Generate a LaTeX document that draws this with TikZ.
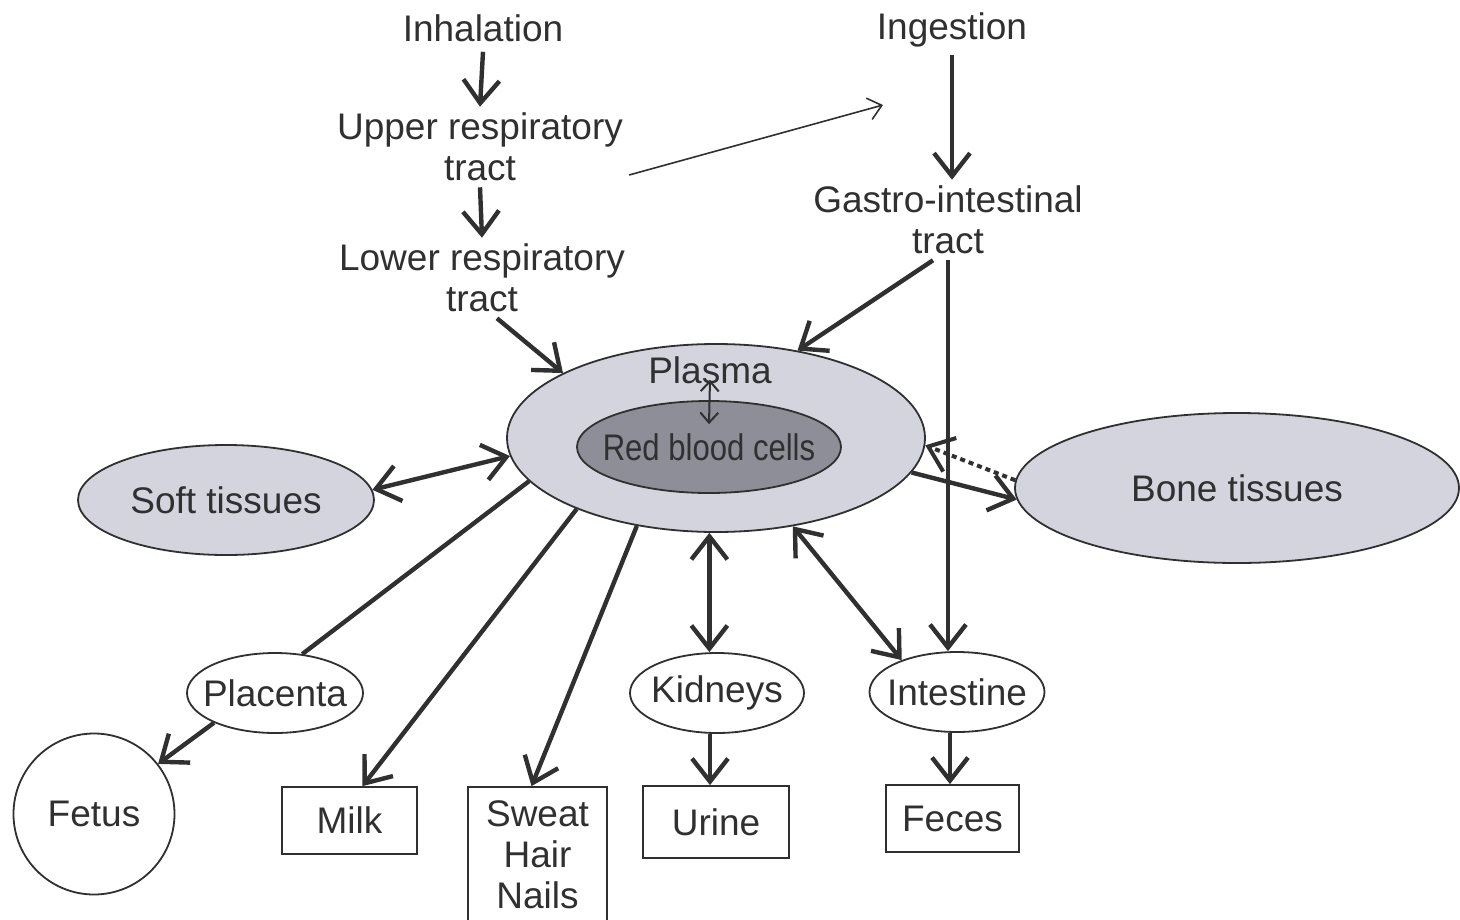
\documentclass[tikz,border=0pt]{standalone}
\usepackage{fontspec}
\setmainfont{Liberation Sans}
\usetikzlibrary{shapes.geometric,arrows.meta,calc}
\definecolor{ink}{HTML}{303030}
\definecolor{plasmafill}{HTML}{D4D4DE}
\definecolor{rbcfill}{HTML}{8E8E98}
\newcommand{\ctext}[1]{\makebox[0pt]{#1}}
\begin{document}
\begin{tikzpicture}[x=1pt,y=-1pt,
  every node/.style={font=\fontsize{37}{41}\selectfont, text=ink, align=center},
  lbl/.style={inner sep=6pt},
  oval/.style={ellipse, draw=ink, line width=1.8pt, inner sep=0pt},
  box/.style={rectangle, draw=ink, line width=1.8pt, inner sep=0pt},
  conn/.style={draw=ink, line width=4.4pt},
  arr/.style={conn, -{Straight Barb[length=23pt,width=36pt]}},
  darr/.style={conn, {Straight Barb[length=23pt,width=36pt]}-{Straight Barb[length=23pt,width=36pt]}},
  thinarr/.style={draw=ink, line width=1.6pt, -{Straight Barb[length=13pt,width=22pt]}},
  smalldarr/.style={draw=ink, line width=2pt, {Straight Barb[length=10pt,width=18pt]}-{Straight Barb[length=10pt,width=18pt]}},
  dotarr/.style={draw=ink, line width=4pt, dash pattern=on 5pt off 4pt, -{Straight Barb[length=23pt,width=36pt]}}
]
\useasboundingbox[fill=white] (0,0) rectangle (1460,919);

% sources
\node[lbl] (inh) at (483,28) {Inhalation};
\node[lbl] (upper) at (480,147) {Upper respiratory\\tract};
\node[lbl] (lower) at (482,278) {Lower respiratory\\tract};
\node[lbl] (ing) at (952,30) {Ingestion};
\node[lbl] (gi) at (948,220) {Gastro-intestinal\\tract};
\coordinate (ingtip) at (883,105);

% compartments
\node[oval, fill=plasmafill, minimum width=418pt, minimum height=188pt] (plasma) at (716,438) {};
\node[inner sep=0pt] (plasmalbl) at (710,370) {Plasma};
\node[oval, fill=rbcfill, minimum width=264pt, minimum height=92pt] (rbc) at (709,447) {\ctext{\scalebox{0.84}[1]{Red blood cells}}};
\node[oval, fill=plasmafill, minimum width=296pt, minimum height=110pt] (soft) at (226,500) {\ctext{Soft tissues}};
\node[oval, fill=plasmafill, minimum width=444pt, minimum height=150pt] (bone) at (1237,488) {\ctext{Bone tissues}};

% organs
\node[oval, minimum width=176pt, minimum height=80pt] (placenta) at (275,693) {\ctext{Placenta}};
\node[oval, minimum width=174pt, minimum height=80pt] (kidneys) at (717,693) {\ctext{Kidneys}};
\node[oval, minimum width=175pt, minimum height=80pt] (intestine) at (957,692) {\ctext{Intestine}};
\node[circle, draw=ink, line width=1.8pt, minimum size=161pt, inner sep=0pt] (fetus) at (94,814) {Fetus};

% outputs
\node[box, minimum width=135pt, minimum height=67pt] (milk) at (349.5,820.5) {Milk};
\node[box, minimum width=139pt, minimum height=136pt] (sweat) at (537.5,855) {Sweat\\Hair\\Nails};
\node[box, minimum width=146pt, minimum height=72pt] (urine) at (716,822) {Urine};
\node[box, minimum width=133pt, minimum height=67pt] (feces) at (952.5,818.5) {Feces};

% connectors
\draw[arr] ([yshift=-4pt]inh.south) -- (upper.north);
\draw[arr] (upper.south) -- (lower.north);
\draw[thinarr] ([yshift=-28pt]upper.east) -- (ingtip);
\draw[arr] ([xshift=15pt]lower.south) -- (plasma.157);
\draw[arr] ([yshift=-2pt]ing.south) -- (ing.south |- gi.north);
\draw[arr] ([xshift=-15pt]gi.south) -- (plasma.47);
\draw[arr] (gi.south) -- (gi.south |- intestine.north);
\draw[smalldarr] ([yshift=4pt]plasmalbl.south) -- ([yshift=-24pt]rbc.north);
\draw[darr] (soft.4) -- (plasma.185);
\draw[conn] (plasma.193) -- (placenta.55);
\draw[arr] (placenta.206) -- (fetus.38);
\draw[arr] (plasma.207) -- ([xshift=13pt]milk.north);
\draw[arr] (plasma.228) -- ([xshift=-6pt]sweat.north);
\draw[darr] (plasma.266) -- (plasma.266 |- kidneys.north);
\draw[darr] (plasma.311) -- (intestine.150);
\draw[arr] ([xshift=-7pt]kidneys.south) -- ([xshift=-7pt]kidneys.south |- urine.north);
\draw[arr] ([xshift=-7pt]intestine.south) -- ([xshift=-7pt]intestine.south |- feces.north);
\draw[arr] (plasma.350) -- (bone.183);
\draw[dotarr] (bone.178) -- (plasma.358);
\end{tikzpicture}
\end{document}
